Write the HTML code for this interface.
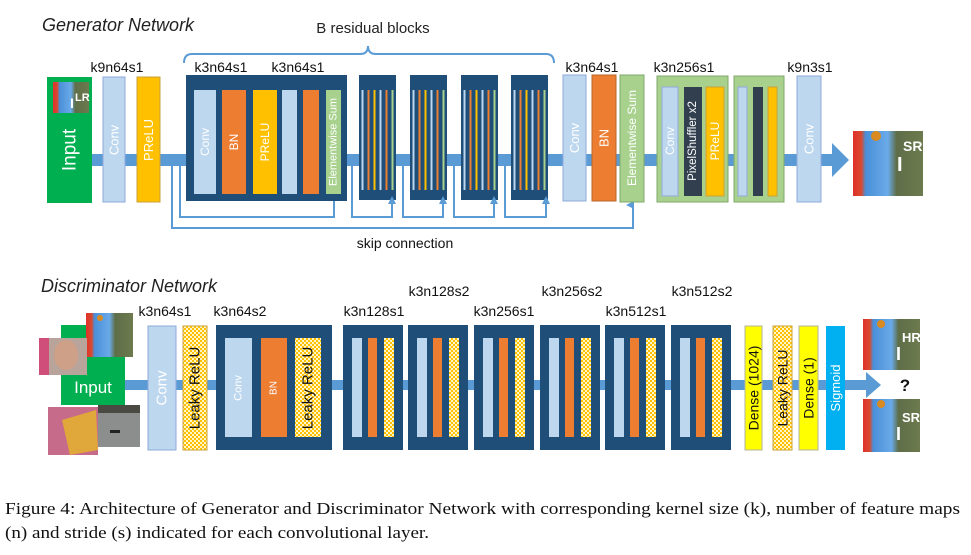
<!DOCTYPE html>
<html><head><meta charset="utf-8"><style>
html,body{margin:0;padding:0;background:#fff;}
svg{display:block;}
text{font-family:"Liberation Sans",sans-serif;}
</style></head><body>
<svg width="971" height="555" viewBox="0 0 971 555" xmlns="http://www.w3.org/2000/svg">
<defs>
<pattern id="chk" width="4" height="4" patternUnits="userSpaceOnUse">
<rect width="4" height="4" fill="#fff6c8"/><rect width="2" height="2" fill="#ffc000"/><rect x="2" y="2" width="2" height="2" fill="#ffc000"/>
</pattern>
<linearGradient id="bab" x1="0" x2="1" y1="0" y2="0">
<stop offset="0" stop-color="#e0302a"/><stop offset="0.12" stop-color="#d84a30"/><stop offset="0.18" stop-color="#4a8fd8"/><stop offset="0.5" stop-color="#6aaae8"/><stop offset="0.62" stop-color="#5e6e48"/><stop offset="1" stop-color="#6d7a4e"/>
</linearGradient>
<marker id="ah" markerWidth="8" markerHeight="8" refX="4" refY="7" orient="auto" markerUnits="userSpaceOnUse"><path d="M0,8 L4,0 L8,8 Z" fill="#5b9bd5"/></marker>
</defs>

<!-- ===== Generator ===== -->
<text x="42" y="31" font-size="18" font-style="italic" fill="#222">Generator Network</text>
<text x="373" y="33" font-size="15" text-anchor="middle" fill="#222">B residual blocks</text>
<path d="M184,63 Q184,54 192,54 L360,54 Q368,54 368,46 Q368,54 376,54 L546,54 Q554,54 554,63" fill="none" stroke="#5b9bd5" stroke-width="2"/>

<g font-size="14" fill="#111">
<text x="117" y="72" text-anchor="middle">k9n64s1</text>
<text x="221" y="72" text-anchor="middle">k3n64s1</text>
<text x="298" y="72" text-anchor="middle">k3n64s1</text>
<text x="592" y="72" text-anchor="middle">k3n64s1</text>
<text x="684" y="72" text-anchor="middle">k3n256s1</text>
<text x="810" y="72" text-anchor="middle">k9n3s1</text>
</g>

<!-- skip lines -->
<g fill="none" stroke="#5b9bd5" stroke-width="2">
<path d="M172,165 L172,228 L633,228 L633,205" marker-end="url(#ah)"/>
<path d="M180,165 L180,217 L334,217 L334,196" marker-end="url(#ah)"/>
<path d="M352,165 L352,217 L392,217 L392,196" marker-end="url(#ah)"/>
<path d="M403,165 L403,217 L443,217 L443,196" marker-end="url(#ah)"/>
<path d="M454,165 L454,217 L494,217 L494,196" marker-end="url(#ah)"/>
<path d="M505,165 L505,217 L546,217 L546,196" marker-end="url(#ah)"/>
</g>
<text x="405" y="248" font-size="14" text-anchor="middle" fill="#111">skip connection</text>

<!-- main line -->
<rect x="90" y="154" width="744" height="12" fill="#5b9bd5"/>
<path d="M832,143 L849,160 L832,177 Z" fill="#5b9bd5"/>

<!-- input -->
<rect x="47" y="77" width="45" height="126" fill="#00b050"/>
<rect x="53" y="82" width="36" height="31" fill="url(#bab)"/>
<text x="70" y="108" font-size="14" font-weight="bold" fill="#fff">I</text>
<text x="75" y="101" font-size="11" font-weight="bold" fill="#fff">LR</text>
<text transform="translate(70,150) rotate(-90)" font-size="19" fill="#fff" text-anchor="middle" dominant-baseline="central">Input</text>

<rect x="103" y="77" width="22" height="125" fill="#bdd7ee" stroke="#8faadc" stroke-width="1"/>
<text transform="translate(114,140) rotate(-90)" font-size="13" fill="#fff" text-anchor="middle" dominant-baseline="central">Conv</text>
<rect x="137" y="77" width="23" height="125" fill="#ffc000" stroke="#c9a23a" stroke-width="1"/>
<text transform="translate(148.5,140) rotate(-90)" font-size="13" fill="#fff" text-anchor="middle" dominant-baseline="central">PReLU</text>

<!-- big residual block -->
<rect x="186" y="75" width="161" height="126" fill="#1f4e79"/>
<rect x="194" y="90" width="22" height="104" fill="#bdd7ee"/>
<text transform="translate(205,142) rotate(-90)" font-size="12" fill="#fff" text-anchor="middle" dominant-baseline="central">Conv</text>
<rect x="222" y="90" width="24" height="104" fill="#ed7d31"/>
<text transform="translate(234,142) rotate(-90)" font-size="12" fill="#fff" text-anchor="middle" dominant-baseline="central">BN</text>
<rect x="253" y="90" width="24" height="104" fill="#ffc000"/>
<text transform="translate(265,142) rotate(-90)" font-size="12" fill="#fff" text-anchor="middle" dominant-baseline="central">PReLU</text>
<rect x="282" y="90" width="15" height="104" fill="#bdd7ee"/>
<rect x="303" y="90" width="16" height="104" fill="#ed7d31"/>
<rect x="326" y="90" width="15" height="104" fill="#a9d18e"/>
<text transform="translate(333.5,142) rotate(-90)" font-size="11" fill="#fff" text-anchor="middle" dominant-baseline="central">Elementwise Sum</text>

<!-- small residual blocks -->
<g id="sb">
<rect x="359" y="75" width="37" height="125" fill="#1f4e79"/>
<rect x="361.5" y="90" width="2" height="100" fill="#bdd7ee"/>
<rect x="367.5" y="90" width="2" height="100" fill="#ed7d31"/>
<rect x="373.5" y="90" width="2" height="100" fill="#ffc000"/>
<rect x="379.5" y="90" width="2" height="100" fill="#bdd7ee"/>
<rect x="385.5" y="90" width="2" height="100" fill="#ed7d31"/>
<rect x="391.5" y="90" width="2" height="100" fill="#a9d18e"/>
</g>
<use href="#sb" x="51"/>
<use href="#sb" x="102"/>
<use href="#sb" x="152"/>
<!-- re-draw arrow tips above blocks -->
<g fill="#5b9bd5">
<path d="M388,204 L392,196 L396,204 Z"/><path d="M439,204 L443,196 L447,204 Z"/><path d="M490,204 L494,196 L498,204 Z"/><path d="M542,204 L546,196 L550,204 Z"/>
</g>

<rect x="563" y="75" width="23" height="126" fill="#bdd7ee" stroke="#8faadc" stroke-width="1"/>
<text transform="translate(574.5,138) rotate(-90)" font-size="13" fill="#fff" text-anchor="middle" dominant-baseline="central">Conv</text>
<rect x="592" y="75" width="24" height="126" fill="#ed7d31" stroke="#b9652a" stroke-width="1"/>
<text transform="translate(604,138) rotate(-90)" font-size="13" fill="#fff" text-anchor="middle" dominant-baseline="central">BN</text>
<rect x="620" y="75" width="24" height="127" fill="#a9d18e" stroke="#7fa86a" stroke-width="1"/>
<text transform="translate(632,138) rotate(-90)" font-size="12" fill="#fff" text-anchor="middle" dominant-baseline="central">Elementwise Sum</text>

<rect x="657" y="76" width="71" height="126" fill="#a9d18e" stroke="#7fa86a" stroke-width="1"/>
<rect x="662" y="87" width="16" height="109" fill="#bdd7ee" stroke="#8faadc" stroke-width="1"/>
<text transform="translate(670,141) rotate(-90)" font-size="12" fill="#fff" text-anchor="middle" dominant-baseline="central">Conv</text>
<rect x="684" y="87" width="18" height="109" fill="#323f4f"/>
<text transform="translate(693,141) rotate(-90)" font-size="11.5" fill="#fff" text-anchor="middle" dominant-baseline="central">PixelShuffler x2</text>
<rect x="706" y="87" width="18" height="109" fill="#ffc000" stroke="#c9a23a" stroke-width="1"/>
<text transform="translate(715,141) rotate(-90)" font-size="12" fill="#fff" text-anchor="middle" dominant-baseline="central">PReLU</text>

<rect x="734" y="76" width="50" height="126" fill="#a9d18e" stroke="#7fa86a" stroke-width="1"/>
<rect x="738" y="87" width="9" height="109" fill="#bdd7ee" stroke="#8faadc" stroke-width="1"/>
<rect x="753" y="87" width="10" height="109" fill="#323f4f"/>
<rect x="768" y="87" width="9" height="109" fill="#ffc000" stroke="#c9a23a" stroke-width="1"/>

<rect x="797" y="76" width="24" height="126" fill="#bdd7ee" stroke="#8faadc" stroke-width="1"/>
<text transform="translate(809,139) rotate(-90)" font-size="13" fill="#fff" text-anchor="middle" dominant-baseline="central">Conv</text>

<rect x="853" y="131" width="70" height="65" fill="url(#bab)"/>
<circle cx="876" cy="136" r="5" fill="#d98a20"/>
<text x="897" y="171" font-size="20" font-weight="bold" fill="#fff">I</text>
<text x="903" y="151" font-size="14" font-weight="bold" fill="#fff">SR</text>

<!-- ===== Discriminator ===== -->
<text x="41" y="292" font-size="18" font-style="italic" fill="#222">Discriminator Network</text>
<g font-size="14" fill="#111">
<text x="165" y="316" text-anchor="middle">k3n64s1</text>
<text x="240" y="316" text-anchor="middle">k3n64s2</text>
<text x="374" y="316" text-anchor="middle">k3n128s1</text>
<text x="439" y="296" text-anchor="middle">k3n128s2</text>
<text x="504" y="316" text-anchor="middle">k3n256s1</text>
<text x="572" y="296" text-anchor="middle">k3n256s2</text>
<text x="636" y="316" text-anchor="middle">k3n512s1</text>
<text x="702" y="296" text-anchor="middle">k3n512s2</text>
</g>

<rect x="120" y="380" width="748" height="10" fill="#5b9bd5"/>
<path d="M866,372 L881,385 L866,398 Z" fill="#5b9bd5"/>
<text x="905" y="391" font-size="17" font-weight="bold" text-anchor="middle" fill="#111">?</text>

<!-- input with images -->
<rect x="61" y="325" width="64" height="80" fill="#00b050"/>
<text x="93" y="393" font-size="17" fill="#fff" text-anchor="middle">Input</text>
<rect x="86" y="313" width="47" height="44" fill="url(#bab)"/>
<circle cx="100" cy="318" r="3" fill="#d98a20"/>
<rect x="39" y="338" width="48" height="37" fill="#b8a49a"/>
<rect x="39" y="338" width="10" height="37" fill="#d04f7a"/>
<ellipse cx="66" cy="355" rx="12" ry="15" fill="#cfa088"/>
<rect x="48" y="407" width="50" height="48" fill="#c76b8a"/>
<path d="M62,420 L96,410 L98,450 L70,455 Z" fill="#e0a83a"/>
<rect x="98" y="405" width="42" height="42" fill="#8b8e8c"/>
<rect x="98" y="405" width="42" height="8" fill="#4a4a42"/>
<rect x="110" y="430" width="10" height="3" fill="#222"/>

<rect x="148" y="326" width="28" height="124" fill="#bdd7ee" stroke="#8faadc" stroke-width="1"/>
<text transform="translate(162,388) rotate(-90)" font-size="15" fill="#fff" text-anchor="middle" dominant-baseline="central">Conv</text>
<rect x="183" y="326" width="24" height="124" fill="url(#chk)" stroke="#c9a23a" stroke-width="1"/>
<text transform="translate(195,388) rotate(-90)" font-size="15" fill="#111" text-anchor="middle" dominant-baseline="central">Leaky ReLU</text>

<rect x="216" y="325" width="116" height="125" fill="#1f4e79"/>
<rect x="225" y="338" width="27" height="99" fill="#bdd7ee"/>
<text transform="translate(238.5,388) rotate(-90)" font-size="11" fill="#fff" text-anchor="middle" dominant-baseline="central">Conv</text>
<rect x="261" y="338" width="26" height="99" fill="#ed7d31"/>
<text transform="translate(274,388) rotate(-90)" font-size="10" fill="#fff" text-anchor="middle" dominant-baseline="central">BN</text>
<rect x="295" y="338" width="26" height="99" fill="url(#chk)"/>
<text transform="translate(308,388) rotate(-90)" font-size="15" fill="#111" text-anchor="middle" dominant-baseline="central">Leaky ReLU</text>

<g id="db">
<rect x="343" y="325" width="60" height="125" fill="#1f4e79"/>
<rect x="352" y="338" width="10" height="99" fill="#bdd7ee"/>
<rect x="368" y="338" width="9" height="99" fill="#ed7d31"/>
<rect x="384" y="338" width="10" height="99" fill="url(#chk)"/>
</g>
<use href="#db" x="65"/>
<use href="#db" x="131"/>
<use href="#db" x="197"/>
<use href="#db" x="262"/>
<use href="#db" x="328"/>

<rect x="745" y="326" width="17" height="124" fill="#ffff00" stroke="#b3b3a0" stroke-width="1"/>
<text transform="translate(753.5,388) rotate(-90)" font-size="14" fill="#111" text-anchor="middle" dominant-baseline="central">Dense (1024)</text>
<rect x="773" y="326" width="19" height="124" fill="url(#chk)" stroke="#c9a23a" stroke-width="1"/>
<text transform="translate(782.5,388) rotate(-90)" font-size="14" fill="#111" text-anchor="middle" dominant-baseline="central">Leaky ReLU</text>
<rect x="799" y="326" width="19" height="124" fill="#ffff00" stroke="#b3b3a0" stroke-width="1"/>
<text transform="translate(808.5,388) rotate(-90)" font-size="14" fill="#111" text-anchor="middle" dominant-baseline="central">Dense (1)</text>
<rect x="826" y="326" width="19" height="124" fill="#00b0f0"/>
<text transform="translate(835.5,388) rotate(-90)" font-size="13" fill="#fff" text-anchor="middle" dominant-baseline="central">Sigmoid</text>

<rect x="863" y="319" width="57" height="51" fill="url(#bab)"/>
<circle cx="881" cy="324" r="4" fill="#d98a20"/>
<text x="896" y="360" font-size="18" font-weight="bold" fill="#fff">I</text>
<text x="902" y="342" font-size="13" font-weight="bold" fill="#fff">HR</text>
<rect x="863" y="399" width="57" height="53" fill="url(#bab)"/>
<circle cx="881" cy="404" r="4" fill="#d98a20"/>
<text x="896" y="440" font-size="18" font-weight="bold" fill="#fff">I</text>
<text x="902" y="422" font-size="13" font-weight="bold" fill="#fff">SR</text>

<!-- caption -->
<g font-family="Liberation Serif,serif" font-size="17" fill="#111">
<text x="5" y="514" textLength="955" lengthAdjust="spacingAndGlyphs" style="font-family:'Liberation Serif',serif">Figure 4: Architecture of Generator and Discriminator Network with corresponding kernel size (k), number of feature maps</text>
<text x="5" y="538" textLength="424" lengthAdjust="spacingAndGlyphs" style="font-family:'Liberation Serif',serif">(n) and stride (s) indicated for each convolutional layer.</text>
</g>
</svg>
</body></html>
